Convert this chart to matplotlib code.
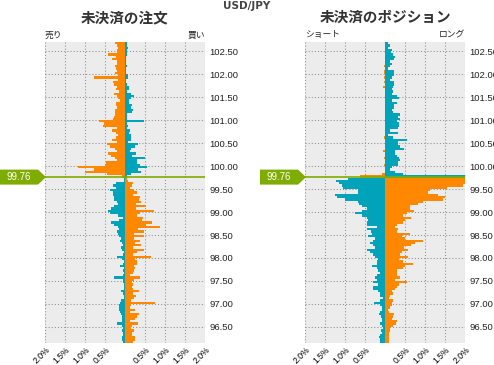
import numpy as np
import matplotlib
matplotlib.use("Agg")
import matplotlib.pyplot as plt
from matplotlib.patches import Polygon
import matplotlib.transforms as mtrans

# ---------------- data ----------------
pair = "USD/JPY"
current_price = 99.76
price_top = 102.70
price_bottom = 96.15
bin_step = 0.05

# Open orders panel (percent), bins from top (102.70) downward
# bins above the current price: sell orders (left), buy orders (right)
orders_upper_left = [0.25,0.19,0.17,0.19,0.21,0.42,0.22,0.32,0.19,0.19,
                     0.24,0.22,0.19,0.24,0.17,0.78,0.17,0.30,0.27,0.19,
                     0.22,0.16,0.27,0.19,0.17,0.12,0.22,0.22,0.20,0.25,
                     0.24,0.24,0.27,0.29,0.65,0.52,0.54,0.19,0.32,0.22,
                     0.17,0.22,0.32,0.21,0.45,0.37,0.25,0.19,0.42,0.36,
                     0.24,0.19,0.47,0.51,1.17,0.78,1.00,0.46,0.07]
orders_upper_right = [0.06,0.04,0.075,0.06,0.04,0.04,0.03,0.03,0.02,0.02,
                      0.04,0.03,0.03,0.02,0.07,0.07,0.03,0.03,0.04,0.09,
                      0.10,0.06,0.15,0.22,0.14,0.10,0.10,0.17,0.15,0.20,
                      0.17,0.05,0.04,0.04,0.47,0.04,0.07,0.06,0.12,0.09,
                      0.15,0.14,0.14,0.07,0.32,0.26,0.14,0.12,0.28,0.18,
                      0.50,0.29,0.29,0.37,0.55,0.32,0.40,0.15,0.04]
# bins below the current price
orders_lower_left = [0.02,0.02,0.22,0.29,0.22,0.37,0.30,0.30,0.27,0.27,
                     0.20,0.17,0.27,0.35,0.42,0.37,0.17,0.06,0.14,0.35,
                     0.27,0.17,0.14,0.20,0.17,0.14,0.10,0.125,0.075,0.04,
                     0.09,0.075,0.025,0.06,0.20,0.075,0.025,0.05,0.125,0.025,
                     0.06,0.025,0.05,0.27,0.04,0.04,0.025,0.025,0.025,0.09,
                     0.06,0.025,0.025,0.10,0.125,0.14,0.15,0.15,0.125,0.10,
                     0.075,0.075,0.075,0.20,0.075,0.05,0.075,0.05,0.05,0.075,
                     0.075,0.06]
orders_lower_right = [0.06,0.08,0.20,0.17,0.12,0.22,0.29,0.21,0.37,0.35,
                      0.40,0.27,0.52,0.27,0.72,0.37,0.29,0.45,0.42,0.67,
                      0.52,0.87,0.32,0.47,0.22,0.47,0.22,0.37,0.25,0.40,
                      0.20,0.47,0.30,0.20,0.65,0.25,0.30,0.30,0.22,0.25,
                      0.22,0.20,0.12,0.37,0.22,0.17,0.20,0.17,0.20,0.35,
                      0.20,0.27,0.22,0.15,0.75,0.15,0.125,0.25,0.125,0.35,
                      0.30,0.25,0.125,0.32,0.175,0.15,0.225,0.175,0.175,0.25,
                      0.25,0.20]

# Open positions panel (percent)
positions_upper_left = [0,0,0,0,0,0,0,0,0,0,
                        0.03,0,0.03,0.03,0,0.03,0,0.03,0,0.06,
                        0,0,0,0,0,0,0,0,0,0,
                        0,0,0,0,0,0,0,0,0,0,
                        0,0.03,0,0,0,0,0,0.04,0,0,
                        0.03,0,0,0.03,0,0,0,0.075,0.62]
positions_upper_right = [0.067,0.117,0.083,0.167,0.15,0.20,0.25,0.233,0.133,0.167,
                         0.117,0.083,0.217,0.233,0.217,0.167,0.133,0.217,0.217,0.20,
                         0.183,0.20,0.167,0.29,0.35,0.167,0.29,0.217,0.217,0.167,
                         0.20,0.375,0.317,0.375,0.30,0.35,0.35,0.317,0.117,0.317,
                         0.083,0.20,0.55,0.317,0.317,0.375,0.475,0.25,0.25,0.30,
                         0.35,0.375,0.317,0.317,0.167,0.117,0.25,0.45,2.5]
positions_lower_left = [0.92,1.22,1.15,1.07,1.04,0.67,0.67,1.25,1.21,1.00,
                        0.67,0.65,0.58,0.46,0.58,0.75,0.58,0.44,0.42,0.44,
                        0.44,0.21,0.44,0.36,0.33,0.42,0.25,0.29,0.375,0.29,
                        0.25,0.44,0.375,0.29,0.25,0.17,0.21,0.19,0.33,0.19,
                        0.17,0.125,0.19,0.25,0.19,0.31,0.17,0.29,0.31,0.17,
                        0.125,0.125,0.04,0.125,0.27,0.125,0.083,0.075,0.125,0.15,
                        0.10,0.075,0.083,0.125,0.083,0.042,0.10,0.075,0.125,0.14,
                        0.125,0.125]
positions_lower_right = [2.5,2.5,2.0,1.96,1.54,1.12,1.08,1.33,1.50,1.46,
                         0.96,0.83,0.62,0.62,0.72,0.54,0.46,0.64,0.50,0.46,
                         0.31,0.25,0.33,0.29,0.62,0.42,0.50,0.94,0.75,0.64,
                         0.47,0.58,0.42,0.375,0.58,0.36,0.46,0.71,0.50,0.46,
                         0.31,0.31,0.29,0.375,0.25,0.54,0.34,0.29,0.25,0.17,
                         0.21,0.125,0.10,0.20,0.18,0.17,0.125,0.083,0.10,0.23,
                         0.21,0.17,0.29,0.275,0.21,0.125,0.125,0.108,0.108,0.108,
                         0.108,0.108]

x_ticks = [-2.0, -1.5, -1.0, -0.5, 0.0, 0.5, 1.0, 1.5, 2.0]
x_tick_labels = ["2.0%", "1.5%", "1.0%", "0.5%", "", "0.5%", "1.0%", "1.5%", "2.0%"]
y_ticks = [96.5, 97.0, 97.5, 98.0, 98.5, 99.0, 99.5, 100.0, 100.5, 101.0, 101.5, 102.0, 102.5]

titles = ["未決済の注文", "未決済のポジション"]
side_labels = [("売り", "買い"), ("ショート", "ロング")]

# ---------------- style ----------------
ORANGE = "#ff8800"
TEAL = "#00a3b9"
GREEN = "#7fac00"
BG = "#ececec"
CJK = ["Noto Sans CJK JP", "DejaVu Sans"]
NUM = ["Liberation Sans", "DejaVu Sans"]

W, H = 494, 365
fig = plt.figure(figsize=(W / 100, H / 100), dpi=100)


def px_axes(x0, y0, x1, y1):
    return fig.add_axes([x0 / W, 1 - y1 / H, (x1 - x0) / W, (y1 - y0) / H])


axes = [px_axes(45, 42, 205, 343), px_axes(305, 42, 465, 343)]
panels = [
    (orders_upper_left, orders_upper_right, orders_lower_left, orders_lower_right),
    (positions_upper_left, positions_upper_right, positions_lower_left, positions_lower_right),
]

for i, (ax, data) in enumerate(zip(axes, panels)):
    ul, ur, ll, lr = [np.asarray(d, float) for d in data]
    n_up, n_lo = len(ul), len(ll)
    up_bottoms = price_top - bin_step * (np.arange(n_up) + 1)
    lo_bottoms = price_top - bin_step * (np.arange(n_up, n_up + n_lo) + 1)
    ax.set_facecolor(BG)
    ax.set_axisbelow(True)
    kw = dict(height=bin_step, align="edge", linewidth=0, zorder=2)
    ax.barh(up_bottoms, -ul, color=ORANGE, **kw)
    ax.barh(up_bottoms, ur, color=TEAL, **kw)
    ax.barh(lo_bottoms, -ll, color=TEAL, **kw)
    ax.barh(lo_bottoms, lr, color=ORANGE, **kw)
    ax.set_xlim(-2, 2)
    ax.set_ylim(price_bottom, price_top)
    ax.set_xticks(x_ticks)
    ax.set_xticklabels(x_tick_labels, rotation=45, ha="right", va="top",
                       rotation_mode="anchor", fontsize=6.2, family=NUM)
    ax.set_yticks(y_ticks)
    ax.set_yticklabels([f"{v:.2f}" for v in y_ticks], fontsize=6.8, family=NUM, color="#222222")
    ax.yaxis.tick_right()
    ax.tick_params(axis="both", length=0)
    ax.tick_params(axis="y", pad=3)
    ax.tick_params(axis="x", pad=1.5)
    for s in ax.spines.values():
        s.set_visible(False)
    ax.grid(True, color="#8f8f8f", linestyle=(0, (1, 2)), linewidth=0.75)
    # current price line
    ax.axhline(current_price, color=GREEN, linewidth=1.2, zorder=4)
    # titles and side labels
    ax.text(0.5, 1.0 + 25 / 301, titles[i], transform=ax.transAxes, ha="center", va="center",
            fontsize=10.5, fontweight="bold", family=CJK, color="#333333")
    ax.text(0.0, 1.0 + 7 / 301, side_labels[i][0], transform=ax.transAxes, ha="left",
            va="center", fontsize=6.3, family=CJK, color="#222222")
    ax.text(1.0, 1.0 + 7 / 301, side_labels[i][1], transform=ax.transAxes, ha="right",
            va="center", fontsize=6.3, family=CJK, color="#222222")
    # current price tag
    x_panel = ax.get_position().x0
    tr = mtrans.blended_transform_factory(fig.transFigure, ax.transData)
    hh = 7.5 / 46.0
    x_start = x_panel - 45 / W
    x_box = x_panel - 7 / W
    tag = Polygon([(x_start, current_price + hh), (x_box, current_price + hh),
                   (x_panel + 1 / W, current_price), (x_box, current_price - hh),
                   (x_start, current_price - hh)], closed=True, transform=tr,
                  facecolor=GREEN, edgecolor="none", clip_on=False, zorder=5)
    ax.add_artist(tag)
    ax.text(x_start + 19 / W, current_price, f"{current_price:.2f}", transform=tr,
            ha="center", va="center", fontsize=7, color="white", family=NUM,
            zorder=6, clip_on=False)

fig.text(0.5, 1 - 6 / H, pair, ha="center", va="center", fontsize=7.5,
         fontweight="bold", color="#444444", family=["DejaVu Sans"])

fig.savefig("out.png", dpi=100, facecolor="white")
